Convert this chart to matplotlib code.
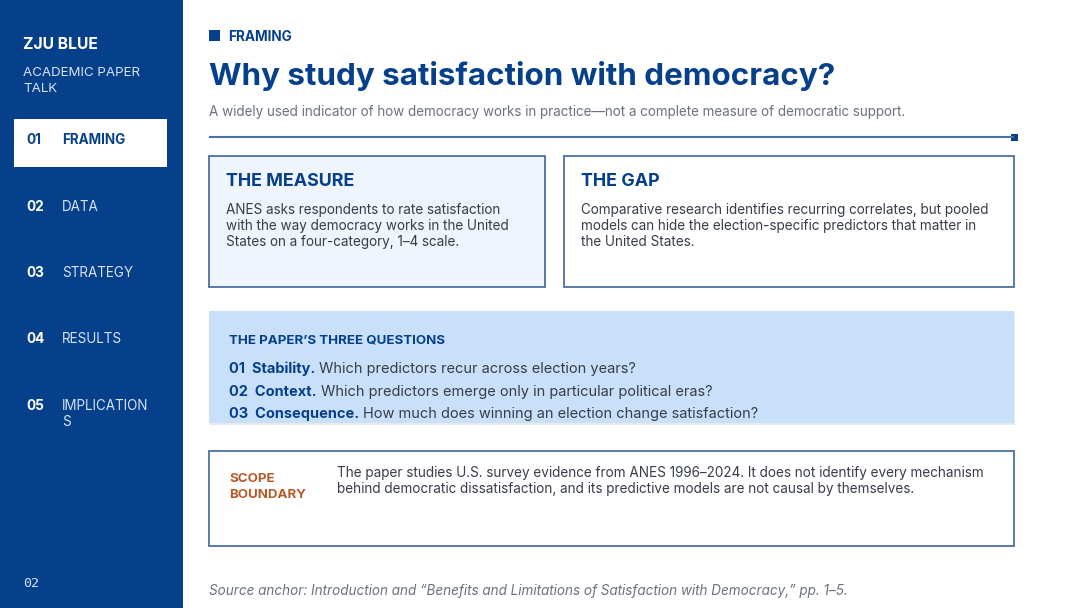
import matplotlib
matplotlib.use("Agg")
import matplotlib.pyplot as plt
from matplotlib.patches import Rectangle

plt.rcParams['font.family'] = ['Inter', 'DejaVu Sans']

# ---- content ----
brand = "ZJU BLUE"
brand_sub = ["ACADEMIC PAPER", "TALK"]
nav_numbers = ["01", "02", "03", "04", "05"]
nav_labels = [["FRAMING"], ["DATA"], ["STRATEGY"], ["RESULTS"], ["IMPLICATION", "S"]]
active_index = 0
page_number = "02"

section_tag = "FRAMING"
title = "Why study satisfaction with democracy?"
subtitle = ("A widely used indicator of how democracy works in practice\u2014not a complete "
            "measure of democratic support.")

card_titles = ["THE MEASURE", "THE GAP"]
card_bodies = [
    ["ANES asks respondents to rate satisfaction",
     "with the way democracy works in the United",
     "States on a four-category, 1\u20134 scale."],
    ["Comparative research identifies recurring correlates, but pooled",
     "models can hide the election-specific predictors that matter in",
     "the United States."],
]

questions_header = "THE PAPER\u2019S THREE QUESTIONS"
q_numbers = ["01", "02", "03"]
q_keys = ["Stability.", "Context.", "Consequence."]
q_texts = ["Which predictors recur across election years?",
           "Which predictors emerge only in particular political eras?",
           "How much does winning an election change satisfaction?"]

scope_label = ["SCOPE", "BOUNDARY"]
scope_body = ["The paper studies U.S. survey evidence from ANES 1996\u20132024. It does not identify every mechanism",
              "behind democratic dissatisfaction, and its predictive models are not causal by themselves."]
source = ("Source anchor: Introduction and \u201cBenefits and Limitations of Satisfaction "
          "with Democracy,\u201d pp. 1\u20135.")

# ---- colours ----
NAVY = "#063F8A"
LIGHT = "#D5E3F6"
BODY = "#373D49"
GRAY = "#6B7280"
EDGE = "#4C6FA3"
ORANGE = "#B35A26"

W, H = 1080, 608
fig = plt.figure(figsize=(W / 100, H / 100), dpi=100)
ax = fig.add_axes([0, 0, 1, 1])
ax.set_xlim(0, W)
ax.set_ylim(H, 0)
ax.axis('off')

def T(x, y, s, **kw):
    kw.setdefault('va', 'baseline')
    kw.setdefault('ha', 'left')
    return ax.text(x, y, s, **kw)

# ---- sidebar ----
ax.add_patch(Rectangle((0, 0), 183, H, facecolor=NAVY, edgecolor='none'))
T(23, 49, brand, color='white', fontsize=11.3, fontweight='bold')
for i, s in enumerate(brand_sub):
    T(23, 76 + i * 16.5, s, color=LIGHT, fontsize=9.6)

nav_base = [144, 211, 277, 343, 410]
for i, (num, lab) in enumerate(zip(nav_numbers, nav_labels)):
    yb = nav_base[i]
    if i == active_index:
        ax.add_patch(Rectangle((14, 119), 153, 48, facecolor='white', edgecolor='none'))
        cn, cl, wl = NAVY, NAVY, 'bold'
    else:
        cn, cl, wl = 'white', LIGHT, 'normal'
    T(26, yb, num, color=cn, fontsize=9.8, fontweight='bold')
    for j, ln in enumerate(lab):
        T(62, yb + j * 16, ln, color=cl, fontsize=9.7, fontweight=wl)

T(23, 587, page_number, color=LIGHT, fontsize=9.5, family='DejaVu Sans Mono')

# ---- header ----
ax.add_patch(Rectangle((209, 30), 11, 11, facecolor=NAVY, edgecolor='none'))
T(228, 41, section_tag, color=NAVY, fontsize=9.8, fontweight='bold')
T(209, 85, title, color=NAVY, fontsize=22.6, fontweight='bold')
T(209, 116, subtitle, color=GRAY, fontsize=9.72)
ax.plot([209, 1014], [137, 137], color=EDGE, lw=1.5, solid_capstyle='butt')
ax.add_patch(Rectangle((1011, 134), 6.5, 6.5, facecolor=NAVY, edgecolor='none'))

# ---- cards ----
cards = [(209, 156, 336, 131, "#EFF5FD"), (564, 156, 450, 131, "white")]
for k, (x0, y0, w, h, fc) in enumerate(cards):
    ax.add_patch(Rectangle((x0, y0), w, h, facecolor=fc, edgecolor=EDGE, lw=1.3))
    T(x0 + 17, 186, card_titles[k], color=NAVY, fontsize=12.9, fontweight='bold')
    for j, ln in enumerate(card_bodies[k]):
        T(x0 + 17, 214 + j * 16, ln, color=BODY, fontsize=9.74)

# ---- questions panel ----
ax.add_patch(Rectangle((210, 313), 805, 112, facecolor="#E6EAEF", edgecolor='none'))
ax.add_patch(Rectangle((209, 311), 805, 112, facecolor="#C9E0FA", edgecolor='none'))
T(229, 343, questions_header, color=NAVY, fontsize=9.6, fontweight='bold')

fig.canvas.draw()
renderer = fig.canvas.get_renderer()

def width_px(t):
    return t.get_window_extent(renderer=renderer).width

q_base = [373, 396, 418]
for i in range(len(q_numbers)):
    yb = q_base[i]
    t1 = T(229, yb, q_numbers[i] + "  " + q_keys[i], color=NAVY, fontsize=10.5, fontweight='bold')
    w1 = width_px(t1)
    T(229 + w1 + 4, yb, q_texts[i], color=BODY, fontsize=10.5)

# ---- scope box ----
ax.add_patch(Rectangle((209, 451), 805, 95, facecolor='white', edgecolor=EDGE, lw=1.3))
for j, ln in enumerate(scope_label):
    T(229, 482 + j * 16, ln, color=ORANGE, fontsize=9.6, fontweight='bold')
for j, ln in enumerate(scope_body):
    T(337, 477 + j * 16, ln, color=BODY, fontsize=9.76)

T(209, 595, source, color=GRAY, fontsize=9.73, style='italic')

fig.savefig("out.png", dpi=100, facecolor='white')
